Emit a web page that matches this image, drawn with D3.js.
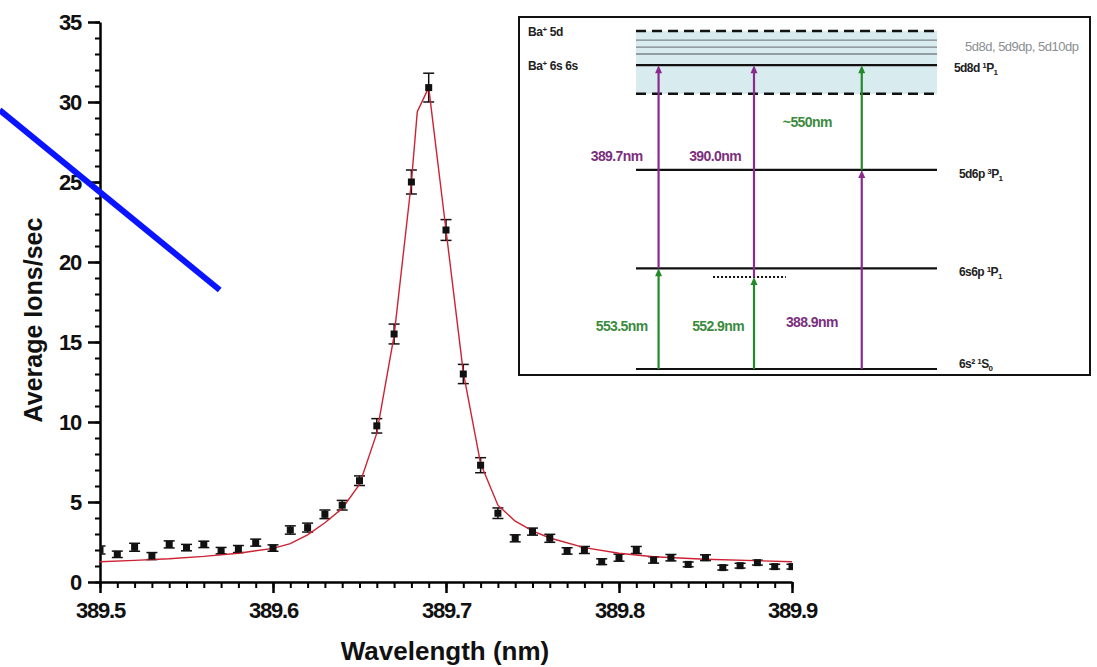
<!DOCTYPE html>
<html lang="en">
    <head>
        <meta charset="utf-8">
        <title>Ba resonance scan</title>
        <script type="text/javascript" src="https://d3js.org/d3.v7.min.js"></script>
        <style type="text/css">
            body { margin: 0; background: #fff; }
            svg { font-family: "Liberation Sans", Arial, sans-serif; }
        </style>
    </head>
    <body>
        <script type="text/javascript">

                const width = 1097;
                const height = 667;

                // measured scan: wavelength (nm), average ions/sec, error
                const wavelengths = [389.50, 389.51, 389.52, 389.53, 389.54, 389.55, 389.56, 389.57, 389.58, 389.59,
                                     389.60, 389.61, 389.62, 389.63, 389.64, 389.65, 389.66, 389.67, 389.68, 389.69,
                                     389.70, 389.71, 389.72, 389.73, 389.74, 389.75, 389.76, 389.77, 389.78, 389.79,
                                     389.80, 389.81, 389.82, 389.83, 389.84, 389.85, 389.86, 389.87, 389.88, 389.89, 389.90];
                const ions = [2.0, 1.73, 2.17, 1.62, 2.35, 2.15, 2.35, 1.96, 2.06, 2.46,
                              2.12, 3.25, 3.4, 4.23, 4.8, 6.33, 9.76, 15.5, 25.0, 30.9,
                              22.0, 13.0, 7.3, 4.3, 2.73, 3.15, 2.73, 1.94, 2.0, 1.27,
                              1.52, 2.0, 1.38, 1.52, 1.1, 1.52, 0.9, 1.02, 1.21, 0.96, 0.96];
                const errors = [0.25, 0.2, 0.25, 0.22, 0.22, 0.2, 0.2, 0.2, 0.22, 0.22,
                                0.2, 0.26, 0.28, 0.27, 0.3, 0.3, 0.45, 0.62, 0.75, 0.9,
                                0.65, 0.6, 0.47, 0.33, 0.22, 0.22, 0.25, 0.2, 0.22, 0.18,
                                0.22, 0.22, 0.2, 0.2, 0.15, 0.18, 0.15, 0.15, 0.15, 0.15, 0.15];

                // fitted curve
                const fitX = [389.50, 389.52, 389.54, 389.56, 389.58, 389.60, 389.61, 389.62, 389.63, 389.64,
                              389.65, 389.66, 389.67, 389.68, 389.6834, 389.69, 389.70, 389.71, 389.72, 389.73,
                              389.74, 389.75, 389.76, 389.78, 389.80, 389.82, 389.85, 389.90];
                const fitY = [1.27, 1.35, 1.45, 1.6, 1.8, 2.1, 2.4, 2.95, 3.7, 4.6,
                              6.1, 9.3, 15.4, 25.0, 29.4, 30.9, 22.0, 13.1, 7.4, 4.8,
                              3.8, 3.2, 2.75, 2.15, 1.8, 1.58, 1.42, 1.27];

                // blue overlay stroke, in data units
                const blueX = [389.442, 389.5692];
                const blueY = [29.5, 18.25];

                const xTicks = [389.5, 389.6, 389.7, 389.8, 389.9];
                const yTicks = [0, 5, 10, 15, 20, 25, 30, 35];

                const svg = d3.select("body")
                              .append("svg")
                              .attr("width", width)
                              .attr("height", height);

                const xScale = d3.scaleLinear()
                                 .domain([389.5, 389.9])
                                 .range([100, 792]);
                const yScale = d3.scaleLinear()
                                 .domain([0, 35])
                                 .range([582, 22]);

                // minor ticks
                svg.append("g")
                   .attr("transform", "translate(0,582)")
                   .call(d3.axisBottom(xScale).tickValues(d3.range(0, 41).map(i => 389.5 + i * 0.01)).tickSize(6).tickFormat(""))
                   .call(g => g.select(".domain").remove())
                   .selectAll("line").attr("stroke-width", 2);
                svg.append("g")
                   .attr("transform", "translate(100,0)")
                   .call(d3.axisLeft(yScale).tickValues(d3.range(0, 36)).tickSize(5).tickFormat(""))
                   .call(g => g.select(".domain").remove())
                   .selectAll("line").attr("stroke-width", 2);

                // major axes
                const xAxis = svg.append("g")
                   .attr("transform", "translate(0,582)")
                   .call(d3.axisBottom(xScale).tickValues(xTicks).tickSize(11).tickSizeOuter(0).tickPadding(9).tickFormat(d3.format(".1f")));
                const yAxis = svg.append("g")
                   .attr("transform", "translate(100,0)")
                   .call(d3.axisLeft(yScale).tickValues(yTicks).tickSize(12).tickSizeOuter(0).tickPadding(7));

                [xAxis, yAxis].forEach(a => {
                    a.select(".domain").attr("stroke-width", 2.5);
                    a.selectAll(".tick line").attr("stroke-width", 2.5);
                    a.selectAll(".tick text")
                     .attr("font-size", 22)
                     .attr("font-weight", "bold")
                     .attr("letter-spacing", -1.2)
                     .attr("fill", "#111");
                });

                // axis titles
                svg.append("text")
                   .attr("x", 445).attr("y", 660)
                   .attr("text-anchor", "middle")
                   .attr("font-size", 26).attr("font-weight", "bold")
                   .attr("fill", "#111")
                   .text("Wavelength (nm)");
                svg.append("text")
                   .attr("transform", "translate(42,320) rotate(-90)")
                   .attr("text-anchor", "middle")
                   .attr("font-size", 25).attr("font-weight", "bold")
                   .attr("fill", "#111")
                   .text("Average Ions/sec");

                // plot clip
                svg.append("clipPath").attr("id", "plotclip")
                   .append("rect")
                   .attr("x", xScale(389.5)).attr("y", 0)
                   .attr("width", xScale(389.9) - xScale(389.5) + 1)
                   .attr("height", yScale(0));

                const plot = svg.append("g").attr("clip-path", "url(#plotclip)");

                const pts = wavelengths.map((w, i) => ({x: w, y: ions[i], e: errors[i]}));

                plot.selectAll("line.err")
                    .data(pts).enter().append("line")
                    .attr("x1", d => xScale(d.x)).attr("x2", d => xScale(d.x))
                    .attr("y1", d => yScale(d.y - d.e)).attr("y2", d => yScale(d.y + d.e))
                    .attr("stroke", "#111").attr("stroke-width", 1.5);
                [-1, 1].forEach(s => {
                    plot.selectAll("line.cap" + s)
                        .data(pts).enter().append("line")
                        .attr("x1", d => xScale(d.x) - 5.5).attr("x2", d => xScale(d.x) + 5.5)
                        .attr("y1", d => yScale(d.y + s * d.e)).attr("y2", d => yScale(d.y + s * d.e))
                        .attr("stroke", "#111").attr("stroke-width", 1.5);
                });

                const fit = fitX.map((x, i) => [x, fitY[i]]);
                plot.append("path")
                    .datum(fit)
                    .attr("d", d3.line().x(d => xScale(d[0])).y(d => yScale(d[1])))
                    .attr("fill", "none")
                    .attr("stroke", "#cc2233")
                    .attr("stroke-width", 1.4);

                plot.selectAll("rect.pt")
                    .data(pts).enter().append("rect")
                    .attr("x", d => xScale(d.x) - 3.5).attr("y", d => yScale(d.y) - 3.5)
                    .attr("width", 7).attr("height", 7)
                    .attr("fill", "#111");

                // blue overlay stroke
                svg.append("line")
                   .attr("x1", xScale(blueX[0])).attr("y1", yScale(blueY[0]))
                   .attr("x2", xScale(blueX[1])).attr("y2", yScale(blueY[1]))
                   .attr("stroke", "#0a14ff").attr("stroke-width", 6);

                // ---------- energy level inset ----------
                const levelNames = ["6s\u00b2 ", "6s6p ", "5d6p ", "5d8d "];
                const levelTerms = [["1", "S", "0"], ["1", "P", "1"], ["3", "P", "1"], ["1", "P", "1"]];
                const levelValues = [0, 29.8, 58.9, 89.9];
                const virtualLevel = 27.2;
                const bandBottom = 81.4;
                const bandTop = 100;
                const rydbergLines = [93.2, 95.2, 97.3];

                // transitions: column, from, to, colour (p = purple, g = green)
                const columns = [7.5, 39.2, 75];
                const stepFrom = [0, 29.8, 0, 27.2, 0, 58.9];
                const stepTo = [29.8, 89.9, 27.2, 89.9, 58.9, 89.9];
                const stepCol = [0, 0, 1, 1, 2, 2];
                const stepColour = ["g", "p", "g", "p", "p", "g"];

                const waveLabels = ["553.5nm", "389.7nm", "552.9nm", "390.0nm", "388.9nm", "~550nm"];
                const waveLabelY = [12.7, 63, 12.7, 63, 13.9, 73.1];
                const waveLabelGap = [11, 16, 10, 13, 24, 30];

                const colours = {p: "#8a2a8c", g: "#238a2c"};
                const textColours = {p: "#7b2f7d", g: "#3c8a3e"};

                const inset = svg.append("g").attr("transform", "translate(518,16)");
                inset.append("rect")
                     .attr("x", 1).attr("y", 1).attr("width", 571).attr("height", 358)
                     .attr("fill", "#fff").attr("stroke", "#111").attr("stroke-width", 2);

                const ix = d3.scaleLinear().domain([0, 100]).range([118, 419]);
                const iy = d3.scaleLinear().domain([0, 100]).range([353, 15]);

                inset.append("rect")
                     .attr("x", ix(0)).attr("y", iy(bandTop))
                     .attr("width", ix(100) - ix(0)).attr("height", iy(bandBottom) - iy(bandTop))
                     .attr("fill", "#d8ebef");
                inset.selectAll("line.ryd")
                     .data(rydbergLines).enter().append("line")
                     .attr("x1", ix(0)).attr("x2", ix(100))
                     .attr("y1", d => iy(d)).attr("y2", d => iy(d))
                     .attr("stroke", "#7d8488").attr("stroke-width", 1.3);
                inset.selectAll("line.dash")
                     .data([bandBottom, bandTop]).enter().append("line")
                     .attr("x1", ix(0)).attr("x2", ix(100))
                     .attr("y1", d => iy(d)).attr("y2", d => iy(d))
                     .attr("stroke", "#111").attr("stroke-width", 2.5)
                     .attr("stroke-dasharray", "10,6");
                inset.selectAll("line.lvl")
                     .data(levelValues).enter().append("line")
                     .attr("x1", ix(0)).attr("x2", ix(100))
                     .attr("y1", d => iy(d)).attr("y2", d => iy(d))
                     .attr("stroke", "#111").attr("stroke-width", 2.2);
                inset.append("line")
                     .attr("x1", ix(25.6)).attr("x2", ix(49.8))
                     .attr("y1", iy(virtualLevel)).attr("y2", iy(virtualLevel))
                     .attr("stroke", "#111").attr("stroke-width", 2)
                     .attr("stroke-dasharray", "2,2");

                // arrows
                stepFrom.forEach((f, i) => {
                    const cx = ix(columns[stepCol[i]]);
                    const c = colours[stepColour[i]];
                    const tipY = iy(stepTo[i]);
                    inset.append("line")
                         .attr("x1", cx).attr("x2", cx)
                         .attr("y1", iy(f)).attr("y2", tipY + 4)
                         .attr("stroke", c).attr("stroke-width", 2.2);
                    inset.append("path")
                         .attr("d", `M${cx},${tipY} L${cx - 3.5},${tipY + 8} L${cx + 3.5},${tipY + 8} Z`)
                         .attr("fill", c);
                });

                inset.selectAll("text.wl")
                     .data(waveLabels).enter().append("text")
                     .attr("x", (d, i) => ix(columns[stepCol[i]]) - waveLabelGap[i])
                     .attr("y", (d, i) => iy(waveLabelY[i]) + 5)
                     .attr("text-anchor", "end")
                     .attr("font-size", 14).attr("font-weight", "bold")
                     .attr("letter-spacing", -0.6)
                     .attr("fill", (d, i) => textColours[stepColour[i]])
                     .text(d => d);

                // level labels on the right
                const lvlLabel = inset.selectAll("text.lvl")
                     .data(levelNames).enter().append("text")
                     .attr("x", (d, i) => i === 3 ? 436 : 441)
                     .attr("y", (d, i) => iy(levelValues[i]) + (i === 0 ? -1 : i === 3 ? 7 : 8))
                     .attr("font-size", 12).attr("font-weight", "bold")
                     .attr("letter-spacing", -0.6)
                     .attr("fill", "#222");
                lvlLabel.append("tspan").text(d => d);
                lvlLabel.append("tspan").attr("font-size", 8).attr("dy", -4).text((d, i) => levelTerms[i][0]);
                lvlLabel.append("tspan").attr("dy", 4).text((d, i) => levelTerms[i][1]);
                lvlLabel.append("tspan").attr("font-size", 8).attr("dy", 3).text((d, i) => levelTerms[i][2]);

                inset.append("text")
                     .attr("x", 447).attr("y", iy(95.2) + 4)
                     .attr("font-size", 13).attr("letter-spacing", -0.5)
                     .attr("fill", "#8a8f92")
                     .text("5d8d, 5d9dp, 5d10dp");

                // left labels
                const leftLabels = [["Ba", "+", " 5d"], ["Ba", "+", " 6s 6s"]];
                const leftValues = [bandTop, 89.9];
                const leftText = inset.selectAll("text.left")
                     .data(leftLabels).enter().append("text")
                     .attr("x", 10)
                     .attr("y", (d, i) => iy(leftValues[i]) + 5)
                     .attr("font-size", 12).attr("font-weight", "bold")
                     .attr("letter-spacing", -0.4)
                     .attr("fill", "#222");
                leftText.append("tspan").text(d => d[0]);
                leftText.append("tspan").attr("font-size", 8).attr("dy", -4).text(d => d[1]);
                leftText.append("tspan").attr("dy", 4).text(d => d[2]);

        </script>
    </body>
</html>
